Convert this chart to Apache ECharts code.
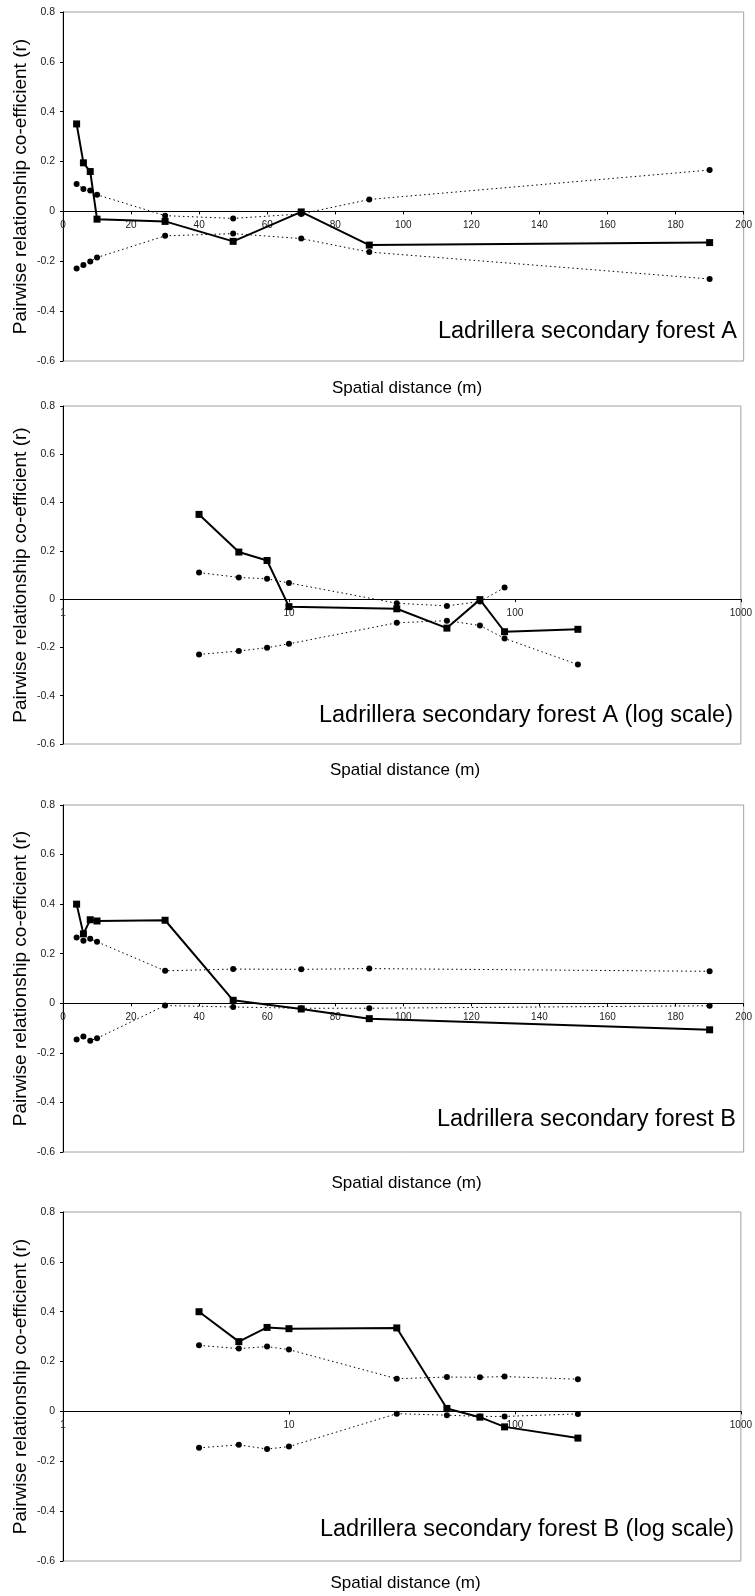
<!DOCTYPE html>
<html><head><meta charset="utf-8">
<script src="https://cdn.jsdelivr.net/npm/echarts@6/dist/echarts.min.js"></script>
<style>html,body{margin:0;padding:0;background:#fff}#c{width:755px;height:1596px}</style>
</head><body><div id="c"></div>
<script>
// ---- data ----
const distances = [4, 6, 8, 10, 30, 50, 70, 90, 190];
const rA      = [0.351, 0.195, 0.160, -0.031, -0.040, -0.120, -0.002, -0.135, -0.125];
const upperA  = [0.110, 0.090, 0.084, 0.067, -0.017, -0.028, -0.010, 0.048, 0.166];
const lowerA  = [-0.229, -0.215, -0.201, -0.185, -0.098, -0.089, -0.109, -0.163, -0.271];
const rB      = [0.400, 0.280, 0.337, 0.332, 0.335, 0.012, -0.023, -0.062, -0.107];
const upperB  = [0.265, 0.252, 0.260, 0.248, 0.131, 0.138, 0.137, 0.140, 0.129];
const lowerB  = [-0.146, -0.134, -0.151, -0.141, -0.009, -0.015, -0.020, -0.020, -0.010];
const panelLabels = ["Ladrillera secondary forest A", "Ladrillera secondary forest A (log scale)",
                     "Ladrillera secondary forest B", "Ladrillera secondary forest B (log scale)"];
const xTitle = "Spatial distance (m)";
const yTitle = "Pairwise relationship co-efficient (r)";
const yMin = -0.6, yMax = 0.8, yStep = 0.2;
const linMin = 0, linMax = 200, linStep = 20;
const logMin = 1, logMax = 1000;

// ---- layout ----
const layout = [
  {left: 63, top: 12,   width: 684, height: 349, log: false, labelDy: 29, xTitleY: 388},
  {left: 63, top: 406,  width: 680, height: 338, log: true,  labelDy: 28, xTitleY: 770},
  {left: 63, top: 805,  width: 683, height: 347, log: false, labelDy: 32, xTitleY: 1183},
  {left: 63, top: 1212, width: 681, height: 349, log: true,  labelDy: 31, xTitleY: 1583}
];
const FONT = "'Liberation Sans', Arial, sans-serif";
const pairs = (xs, ys) => xs.map((x, i) => [x, ys[i]]);

const panelData = [
  {r: rA, up: pairs(distances, upperA), lo: lowerA},
  // the original log-scale plot of A has no upper-envelope point at 190 m
  {r: rA, up: pairs(distances, upperA).slice(0, distances.length - 1), lo: lowerA},
  {r: rB, up: pairs(distances, upperB), lo: lowerB},
  {r: rB, up: pairs(distances, upperB), lo: lowerB}
];

const grid = [], xAxis = [], yAxis = [], series = [], graphic = [];
layout.forEach((L, i) => {
  grid.push({left: L.left, top: L.top, width: L.width, height: L.height,
             show: true, borderColor: '#a0a0a0', borderWidth: 1, backgroundColor: 'transparent'});
  // x axis drawn across the plot at r = 0
  const zeroOffset = -L.height * (0 - yMin) / (yMax - yMin);
  const xa = {
    gridIndex: i, position: 'bottom', offset: zeroOffset,
    axisLine: {show: true, onZero: false, lineStyle: {color: '#000', width: 1}},
    axisTick: {show: true, inside: false, length: 3, lineStyle: {color: '#000'}},
    axisLabel: {show: true, color: '#222', fontSize: 10, fontFamily: FONT, margin: 9,
                showMinLabel: true, showMaxLabel: true, hideOverlap: false,
                formatter: v => String(v)},
    splitLine: {show: false}, minorTick: {show: false}
  };
  if (L.log) Object.assign(xa, {type: 'log', logBase: 10, min: logMin, max: logMax});
  else Object.assign(xa, {type: 'value', min: linMin, max: linMax, interval: linStep});
  xAxis.push(xa);
  yAxis.push({
    gridIndex: i, type: 'value', min: yMin, max: yMax, interval: yStep, position: 'left',
    axisLine: {show: true, onZero: false, lineStyle: {color: '#000', width: 1}},
    axisTick: {show: true, length: 3, lineStyle: {color: '#000'}},
    axisLabel: {color: '#222', fontSize: 10.5, fontFamily: FONT, margin: 8,
                formatter: v => String(Math.round(v * 10) / 10)},
    splitLine: {show: false}
  });
  const P = panelData[i];
  const dotted = {color: '#000', width: 1, type: [1.5, 3]};
  series.push({type: 'line', xAxisIndex: i, yAxisIndex: i, data: P.up, symbol: 'circle', symbolSize: 6,
               itemStyle: {color: '#000'}, lineStyle: dotted, z: 2, animation: false});
  series.push({type: 'line', xAxisIndex: i, yAxisIndex: i, data: pairs(distances, P.lo), symbol: 'circle', symbolSize: 6,
               itemStyle: {color: '#000'}, lineStyle: dotted, z: 2, animation: false});
  series.push({type: 'line', xAxisIndex: i, yAxisIndex: i, data: pairs(distances, P.r), symbol: 'rect', symbolSize: 7,
               itemStyle: {color: '#000'}, lineStyle: {color: '#000', width: 2}, z: 3, animation: false});

  const bottom = L.top + L.height;
  graphic.push({type: 'text', x: 21, y: L.top + L.height / 2, rotation: Math.PI / 2,
    style: {text: yTitle, fontSize: 19, fontFamily: FONT, fill: '#000',
            align: 'center', verticalAlign: 'middle', textAlign: 'center', textVerticalAlign: 'middle'}});
  graphic.push({type: 'text', x: L.left + L.width / 2 + 2, y: L.xTitleY,
    style: {text: xTitle, fontSize: 17, fontFamily: FONT, fill: '#000',
            align: 'center', verticalAlign: 'middle', textAlign: 'center', textVerticalAlign: 'middle'}});
  graphic.push({type: 'text', x: L.left + L.width - 10, y: bottom - L.labelDy,
    style: {text: panelLabels[i], fontSize: 23.5, fontFamily: FONT, fill: '#000',
            align: 'right', verticalAlign: 'middle', textAlign: 'right', textVerticalAlign: 'middle'}});
});

const chart = echarts.init(document.getElementById('c'), null, {renderer: 'canvas'});
chart.setOption({animation: false, backgroundColor: '#fff', grid, xAxis, yAxis, series, graphic});
</script></body></html>
